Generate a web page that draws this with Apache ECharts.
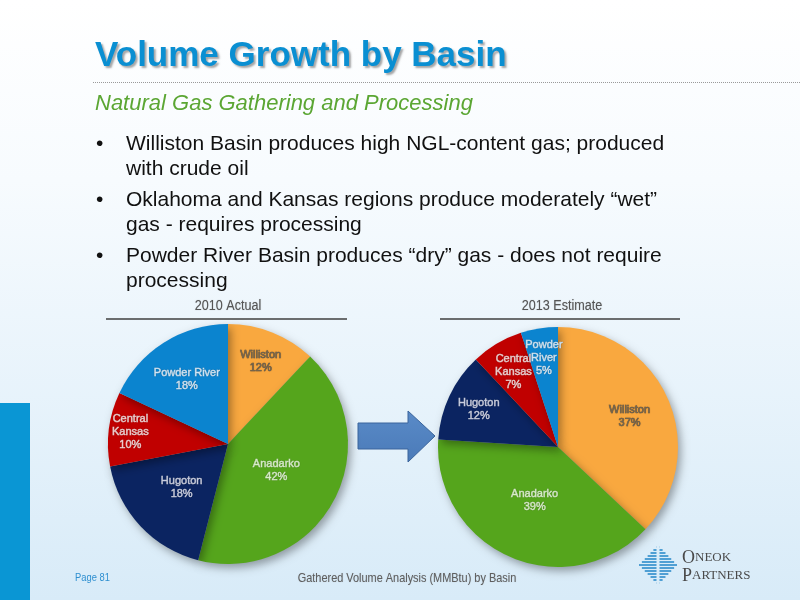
<!DOCTYPE html>
<html>
<head>
<meta charset="utf-8">
<script src="https://cdn.jsdelivr.net/npm/echarts@6/dist/echarts.min.js"></script>
<style>
  html, body { margin: 0; padding: 0; background: #fff; }
  #main { width: 800px; height: 600px; }
</style>
</head>
<body>
<div id="main"></div>
<script>
// ---- data ----
const basins = ['Williston', 'Anadarko', 'Hugoton', 'Central\nKansas', 'Powder River'];
const basins2013 = ['Williston', 'Anadarko', 'Hugoton', 'Central\nKansas', 'Powder\nRiver'];
const share2010 = [12, 42, 18, 10, 18];
const share2013 = [37, 39, 12, 7, 5];
const pieTitles = ['2010 Actual', '2013 Estimate'];
const bullets = [
  'Williston Basin produces high NGL-content gas; produced\nwith crude oil',
  'Oklahoma and Kansas regions produce moderately \u201cwet\u201d\ngas - requires processing',
  'Powder River Basin produces \u201cdry\u201d gas - does not require\nprocessing'
];

// ---- styles ----
const sliceColors = ['#F9A83F', '#55A51C', '#0B2461', '#C00000', '#0B84CF'];
const labelColors = ['#75664f', '#d8eec8', '#c8cde0', '#f2cccc', '#cfe6f7'];
// how far out each slice label sits, as a share of the radius
const reach2010 = [0.74, 0.46, 0.53, 0.82, 0.64];
const reach2013 = [0.65, 0.49, 0.73, 0.73, 0.75];
const R = 120;
const SANS = '"Liberation Sans", Arial, sans-serif';
const SERIF = '"Liberation Serif", serif';

const chart = echarts.init(document.getElementById('main'), null, { renderer: 'canvas' });

function pieSeries(center, names, vals, reach) {
  return {
    type: 'pie', center: center, radius: [0, R], startAngle: 90, clockwise: true,
    silent: true, animation: false, avoidLabelOverlap: false,
    itemStyle: { borderWidth: 0, shadowBlur: 8, shadowOffsetX: 3, shadowOffsetY: 4, shadowColor: 'rgba(0,0,0,0.35)' },
    label: { show: true, position: 'inside', fontFamily: SANS, fontSize: 11, fontWeight: 'normal',
      lineHeight: 13, textBorderWidth: 0.5, textShadowColor: 'rgba(0,0,0,0.3)', textShadowBlur: 1,
      formatter: p => p.name + '\n' + p.value + '%' },
    labelLine: { show: false },
    // push each inside label along its own ray to the wanted distance
    labelLayout: p => {
      const r = p.labelRect;
      const vx = r.x + r.width / 2 - center[0], vy = r.y + r.height / 2 - center[1];
      const t = reach[p.dataIndex] * R / Math.hypot(vx, vy);
      return { dx: vx * (t - 1), dy: vy * (t - 1), hideOverlap: false };
    },
    data: names.map((n, i) => ({ name: n, value: vals[i],
      itemStyle: { color: sliceColors[i] },
      label: { color: labelColors[i], textBorderColor: labelColors[i] } }))
  };
}

// ---- decoration ----
const g = [];
g.push({ type: 'rect', shape: { x: 0, y: 0, width: 800, height: 600 }, z: -10,
  style: { fill: new echarts.graphic.LinearGradient(0, 0, 0, 1, [
    { offset: 0, color: '#ffffff' }, { offset: 0.3, color: '#f7fbfe' }, { offset: 1, color: '#d8ebf8' }]) } });
g.push({ type: 'rect', shape: { x: 0, y: 403, width: 30, height: 197 }, style: { fill: '#0A96D4' } });
g.push({ type: 'text', x: 95, y: 56,
  style: { text: 'Volume Growth by Basin', font: 'bold 35px ' + SANS, fill: '#0A8FD2', verticalAlign: 'middle',
    textShadowColor: 'rgba(0,0,0,0.35)', textShadowOffsetX: 2, textShadowOffsetY: 2, textShadowBlur: 2 } });
g.push({ type: 'line', shape: { x1: 93, y1: 82.5, x2: 800, y2: 82.5 },
  style: { stroke: '#9a9a9a', lineWidth: 1, lineDash: [1, 1] } });
g.push({ type: 'text', x: 95, y: 104,
  style: { text: 'Natural Gas Gathering and Processing', font: 'italic 22px ' + SANS, fill: '#5BA633', verticalAlign: 'middle' } });
bullets.forEach((b, i) => {
  const y = 144 + i * 56;
  g.push({ type: 'text', x: 96, y: y, style: { text: '\u2022', font: '21px ' + SANS, fill: '#111', verticalAlign: 'middle' } });
  g.push({ type: 'text', x: 126, y: y - 12.75,
    style: { text: b, font: '21px ' + SANS, fill: '#111', lineHeight: 25.5, verticalAlign: 'top' } });
});
// pie headers
[[228, 106, 347], [562, 440, 680]].forEach((h, i) => {
  g.push({ type: 'text', x: h[0], y: 306, scaleX: 0.9,
    style: { text: pieTitles[i], font: '14px ' + SANS, fill: '#555555', align: 'center', verticalAlign: 'middle',
      textShadowColor: 'rgba(0,0,0,0.25)', textShadowBlur: 1 } });
  g.push({ type: 'line', shape: { x1: h[1], y1: 319, x2: h[2], y2: 319 }, style: { stroke: '#3f3f3f', lineWidth: 1.5 } });
});
// arrow
g.push({ type: 'polygon', shape: { points: [[358, 423], [408, 423], [408, 411], [435, 436], [408, 462], [408, 449], [358, 449]] },
  style: { fill: new echarts.graphic.LinearGradient(0, 0, 0, 1, [
    { offset: 0, color: '#5A8BC8' }, { offset: 1, color: '#4A7AB8' }]), stroke: '#3B659C', lineWidth: 1 } });
// footer
g.push({ type: 'text', x: 75, y: 578, scaleX: 0.85,
  style: { text: 'Page 81', font: '11px ' + SANS, fill: '#2E8FD0', verticalAlign: 'middle' } });
g.push({ type: 'text', x: 407, y: 578, scaleX: 0.84,
  style: { text: 'Gathered Volume Analysis (MMBtu) by Basin', font: '13px ' + SANS, fill: '#5f5f5f',
    align: 'center', verticalAlign: 'middle', textShadowColor: 'rgba(0,0,0,0.2)', textShadowBlur: 1 } });
// logo mark: striped diamond
for (let k = -6; k <= 6; k++) {
  const yy = 565 + k * 3;
  const hw = 19 * (1 - Math.abs(k) / 6.6);
  g.push({ type: 'line', shape: { x1: 658 - hw, y1: yy, x2: 656.5, y2: yy }, style: { stroke: '#2C8CCB', lineWidth: 1.6 } });
  g.push({ type: 'line', shape: { x1: 659.5, y1: yy, x2: 658 + hw, y2: yy }, style: { stroke: '#2C8CCB', lineWidth: 1.6 } });
}
const logoRich = { a: { font: '18px ' + SERIF, fill: '#4a4a4a' }, b: { font: '13px ' + SERIF, fill: '#4a4a4a' } };
g.push({ type: 'text', x: 682, y: 558, style: { rich: logoRich, text: '{a|O}{b|NEOK}', verticalAlign: 'middle' } });
g.push({ type: 'text', x: 682, y: 576, style: { rich: logoRich, text: '{a|P}{b|ARTNERS}', verticalAlign: 'middle' } });

chart.setOption({
  animation: false,
  graphic: g,
  series: [
    pieSeries([228, 444], basins, share2010, reach2010),
    pieSeries([558, 447], basins2013, share2013, reach2013)
  ]
});
</script>
</body>
</html>
